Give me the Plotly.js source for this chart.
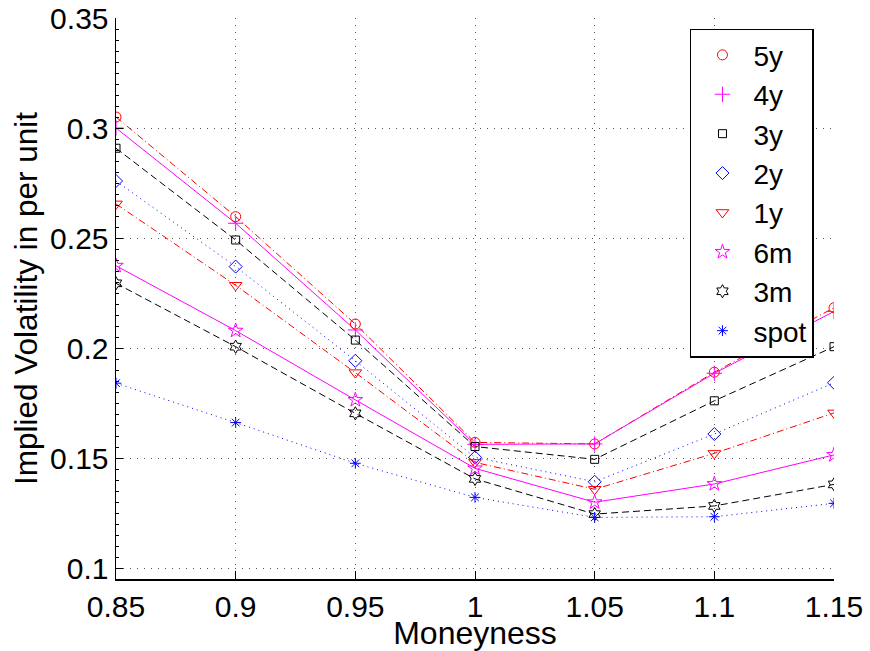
<!DOCTYPE html>
<html>
<head>
<meta charset="utf-8">
<script src="https://cdn.plot.ly/plotly-3.0.1.min.js"></script>
<style>html,body{margin:0;padding:0;background:#fff;}#chart{width:870px;height:651px;}</style>
</head>
<body>
<div id="chart"></div>
<script>
var moneyness = [0.85, 0.9, 0.95, 1.0, 1.05, 1.1, 1.15];
var xTickLabels = ["0.85", "0.9", "0.95", "1", "1.05", "1.1", "1.15"];
var yTickVals = [0.1, 0.15, 0.2, 0.25, 0.3, 0.35];
var yTickLabels = ["0.1", "0.15", "0.2", "0.25", "0.3", "0.35"];

var seriesNames = ["5y", "4y", "3y", "2y", "1y", "6m", "3m", "spot"];
var vol5y   = [0.3050, 0.2597, 0.2109, 0.1571, 0.1564, 0.1890, 0.2183];
var vol4y   = [0.3000, 0.2567, 0.2082, 0.1562, 0.1564, 0.1885, 0.2166];
var vol3y   = [0.2908, 0.2491, 0.2036, 0.1552, 0.1494, 0.1760, 0.2006];
var vol2y   = [0.2759, 0.2370, 0.1942, 0.1503, 0.1392, 0.1609, 0.1842];
var vol1y   = [0.2655, 0.2285, 0.1888, 0.1480, 0.1358, 0.1521, 0.1705];
var vol6m   = [0.2374, 0.2079, 0.1764, 0.1453, 0.1299, 0.1382, 0.1514];
var vol3m   = [0.2294, 0.2006, 0.1703, 0.1405, 0.1245, 0.1282, 0.1380];
var volSpot = [0.1840, 0.1661, 0.1476, 0.1321, 0.1230, 0.1233, 0.1294];

var seriesValues = [vol5y, vol4y, vol3y, vol2y, vol1y, vol6m, vol3m, volSpot];
var colors  = ["#ff0000", "#ff00ff", "#000000", "#0000ff", "#ff0000", "#ff00ff", "#000000", "#0000ff"];
var symbols = ["circle-open", "cross-thin-open", "square-open", "diamond-open",
               "triangle-down-open", "star-open", "hexagram-open", "asterisk-open"];
var dashes  = ["7px,3px,1px,3px", "solid", "7px,4px", "1px,4px",
               "7px,3px,1px,3px", "solid", "7px,4px", "1px,4px"];
var sizes   = [10, 11, 8, 10, 11, 11, 10, 9];

var traces = [];
for (var i = 0; i < seriesNames.length; i++) {
  traces.push({
    x: moneyness, y: seriesValues[i], type: "scatter", mode: "lines",
    line: {color: colors[i], width: 1, dash: dashes[i]},
    showlegend: false, hoverinfo: "skip"
  });
}
for (var j = 0; j < seriesNames.length; j++) {
  traces.push({
    x: moneyness, y: seriesValues[j], type: "scatter", mode: "markers",
    name: seriesNames[j],
    marker: {symbol: symbols[j], size: sizes[j], color: colors[j], line: {color: colors[j], width: 1}}
  });
}

var fontFam = "Liberation Sans, Arial, Helvetica, sans-serif";
var layout = {
  width: 870, height: 651,
  margin: {l: 116, r: 36, t: 18, b: 72, pad: 0},
  paper_bgcolor: "#ffffff", plot_bgcolor: "#ffffff",
  font: {family: fontFam, size: 30, color: "#000"},
  showlegend: true,
  legend: {
    x: 0.7994, y: 0.981, xanchor: "left", yanchor: "top",
    bgcolor: "#ffffff", bordercolor: "#000000", borderwidth: 1.5,
    font: {family: fontFam, size: 28, color: "#000"},
    itemwidth: 52, tracegroupgap: 0, traceorder: "normal"
  },
  xaxis: {
    range: [0.85, 1.15],
    tickmode: "array", tickvals: moneyness, ticktext: xTickLabels,
    ticks: "inside", ticklen: 8, tickwidth: 1, tickcolor: "#000",
    showline: true, linecolor: "#000", linewidth: 1.5, mirror: false,
    showgrid: true, gridcolor: "#555555", gridwidth: 1, griddash: "1px,6px",
    zeroline: false,
    tickfont: {family: fontFam, size: 30, color: "#000"},
    title: {text: "Moneyness", font: {family: fontFam, size: 32, color: "#000"}, standoff: 7}
  },
  yaxis: {
    range: [0.095, 0.35],
    tickmode: "array", tickvals: yTickVals, ticktext: yTickLabels,
    ticks: "inside", ticklen: 7, tickwidth: 1, tickcolor: "#000",
    minor: {dtick: 0.005, ticks: "inside", ticklen: 3, tickcolor: "#000", showgrid: false},
    showline: true, linecolor: "#000", linewidth: 1.5, mirror: false,
    showgrid: true, gridcolor: "#555555", gridwidth: 1, griddash: "1px,6px",
    zeroline: false,
    tickfont: {family: fontFam, size: 30, color: "#000"},
    title: {text: "Implied Volatility in per unit", font: {family: fontFam, size: 31.5, color: "#000"}, standoff: 3}
  }
};

Plotly.newPlot("chart", traces, layout, {staticPlot: true, displayModeBar: false});
</script>
</body>
</html>
